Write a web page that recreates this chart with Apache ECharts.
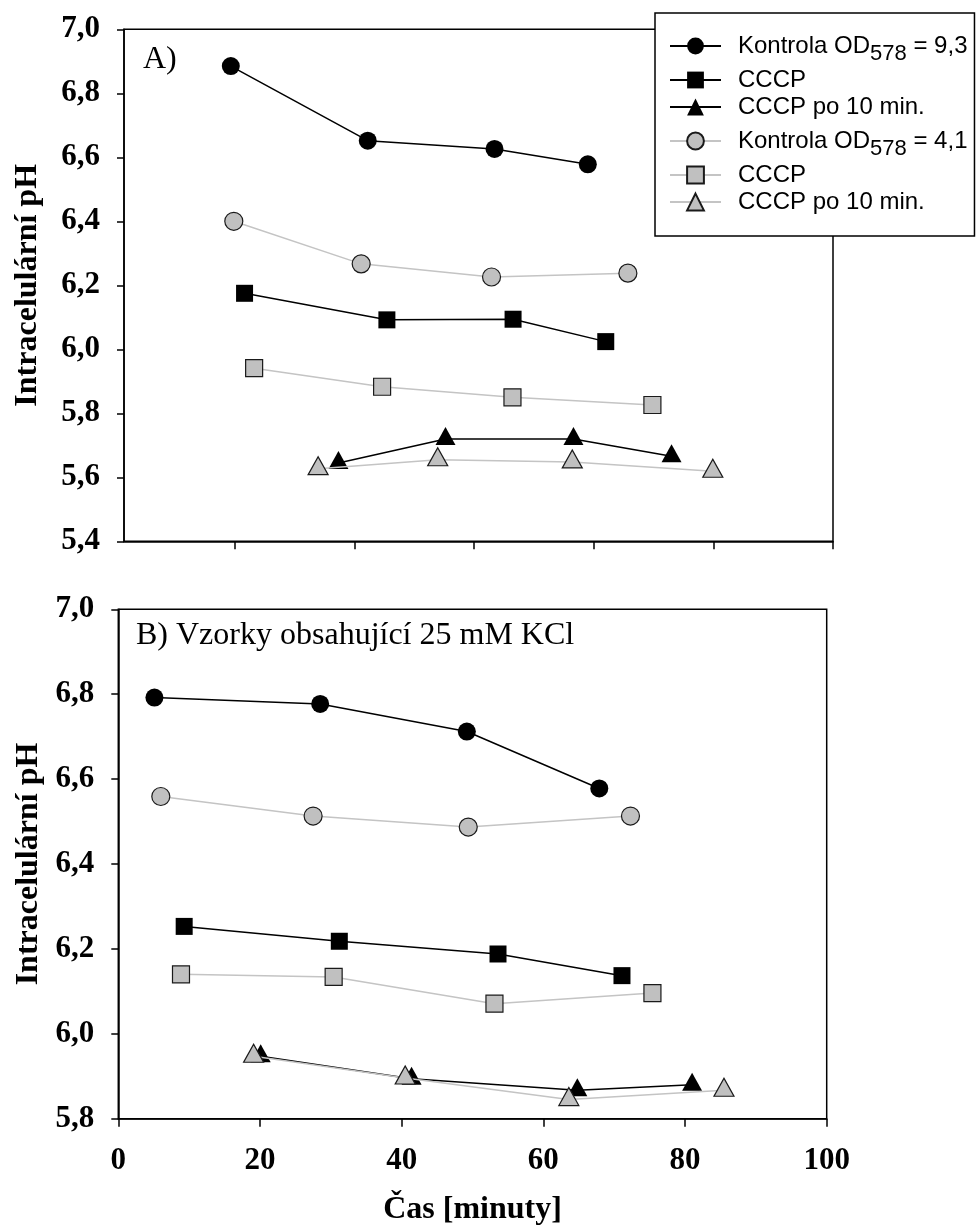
<!DOCTYPE html>
<html><head><meta charset="utf-8">
<script src="https://cdn.jsdelivr.net/npm/echarts@6.0.0/dist/echarts.min.js"></script>
<style>html,body{margin:0;padding:0;background:#fff}#c{width:977px;height:1231px}</style>
</head><body><div id="c"></div>
<script>
// ---- data (minutes, intracellular pH) ----
const legendNames = ['Kontrola OD578 = 9,3', 'CCCP', 'CCCP po 10 min.', 'Kontrola OD578 = 4,1', 'CCCP ', 'CCCP po 10 min. '];

// Panel A
const xA_k93 = [19.3, 42.2, 63.4, 79.0];
const yA_k93 = [6.885, 6.652, 6.626, 6.578];
const xA_c93 = [21.6, 45.4, 66.5, 82.0];
const yA_c93 = [6.175, 6.092, 6.094, 6.024];
const xA_p93 = [37.3, 55.2, 76.6, 93.0];
const yA_p93 = [5.645, 5.720, 5.720, 5.666];
const xA_k41 = [19.8, 41.1, 62.9, 85.7];
const yA_k41 = [6.400, 6.267, 6.226, 6.238];
const xA_c41 = [23.2, 44.6, 66.4, 89.8];
const yA_c41 = [5.941, 5.883, 5.850, 5.826];
const xA_p41 = [33.9, 53.9, 76.4, 99.9];
const yA_p41 = [5.627, 5.655, 5.648, 5.619];

// Panel B (25 mM KCl)
const xB_k93 = [5.1, 28.5, 49.2, 67.9];
const yB_k93 = [6.792, 6.777, 6.712, 6.578];
const xB_c93 = [9.3, 31.2, 53.6, 71.1];
const yB_c93 = [6.253, 6.218, 6.188, 6.137];
const xB_p93 = [20.1, 41.4, 64.8, 81.0];
const yB_p93 = [5.947, 5.894, 5.867, 5.880];
const xB_k41 = [6.0, 27.5, 49.4, 72.3];
const yB_k41 = [6.559, 6.513, 6.487, 6.513];
const xB_c41 = [8.85, 30.4, 53.1, 75.4];
const yB_c41 = [6.140, 6.134, 6.071, 6.096];
const xB_p41 = [19.1, 40.5, 63.6, 85.5];
const yB_p41 = [5.947, 5.896, 5.845, 5.867];

// Ticks
const xTicksA = [20, 40, 60, 80, 100, 120];

// ---- styles ----
const SERIF = 'Liberation Serif';
const SANS = 'Liberation Sans';
const black = {line: '#000', fill: '#000', border: '#000', bw: 0};
const gray = {line: '#c4c4c4', fill: '#c0c0c0', border: '#1a1a1a', bw: 1.2};
const shapes = {
  circle: {symbol: 'circle', size: 18, offset: [0, 0]},
  rect: {symbol: 'rect', size: 17, offset: [0, 0]},
  triangle: {symbol: 'triangle', size: [20, 18], offset: [0, -3]}
};
function mk(name, xs, ys, gi, st, sh) {
  return {
    name: name, type: 'line', xAxisIndex: gi, yAxisIndex: gi,
    data: xs.map((x, i) => [x, ys[i]]),
    symbol: shapes[sh].symbol, symbolSize: shapes[sh].size, symbolOffset: shapes[sh].offset,
    lineStyle: {color: st.line, width: 1.5},
    itemStyle: {color: st.fill, borderColor: st.border, borderWidth: st.bw},
    emphasis: {disabled: true}, animation: false, z: st === gray ? 3 : 2
  };
}
const series = [
  mk(legendNames[0], xA_k93, yA_k93, 0, black, 'circle'),
  mk(legendNames[1], xA_c93, yA_c93, 0, black, 'rect'),
  mk(legendNames[2], xA_p93, yA_p93, 0, black, 'triangle'),
  mk(legendNames[3], xA_k41, yA_k41, 0, gray, 'circle'),
  mk(legendNames[4], xA_c41, yA_c41, 0, gray, 'rect'),
  mk(legendNames[5], xA_p41, yA_p41, 0, gray, 'triangle'),
  mk(legendNames[0], xB_k93, yB_k93, 1, black, 'circle'),
  mk(legendNames[1], xB_c93, yB_c93, 1, black, 'rect'),
  mk(legendNames[2], xB_p93, yB_p93, 1, black, 'triangle'),
  mk(legendNames[3], xB_k41, yB_k41, 1, gray, 'circle'),
  mk(legendNames[4], xB_c41, yB_c41, 1, gray, 'rect'),
  mk(legendNames[5], xB_p41, yB_p41, 1, gray, 'triangle')
];

const fmtY = v => v.toFixed(1).replace('.', ',');
const axLine = {show: true, lineStyle: {color: '#000', width: 1.5}};
const tickSt = {show: true, inside: false, length: 8, lineStyle: {color: '#000', width: 1.5}};
const labelSt = {fontFamily: SERIF, fontWeight: 'bold', fontSize: 31, color: '#000'};
const nameSt = {fontFamily: SERIF, fontWeight: 'bold', fontSize: 32, color: '#000'};

const option = {
  animation: false,
  backgroundColor: '#fff',
  title: [
    {text: 'A)', left: 143, top: 44, padding: 0, textStyle: {fontFamily: SERIF, fontWeight: 'normal', fontSize: 32, color: '#000'}},
    {text: 'B) Vzorky obsahující 25 mM KCl', left: 136, top: 620, padding: 0, textStyle: {fontFamily: SERIF, fontWeight: 'normal', fontSize: 32, color: '#000'}}
  ],
  legend: {
    data: legendNames, orient: 'vertical', left: 655, top: 13,
    itemWidth: 51, itemHeight: 21, itemGap: 3,
    padding: [14, 7, 22, 14],
    backgroundColor: '#fff', borderColor: '#000', borderWidth: 1.5, borderRadius: 0,
    selectedMode: false,
    formatter: n => n.trim().replace('OD578', 'OD{s|578}'),
    textStyle: {fontFamily: SANS, fontSize: 24, color: '#000', lineHeight: 22, padding: [0, 0, 0, 12],
      rich: {s: {fontFamily: SANS, fontSize: 22, color: '#000', lineHeight: 20, padding: [16, 0, 0, 0]}}}
  },
  grid: [
    {left: 124, top: 29.3, width: 709, height: 512, show: true, borderColor: '#000', borderWidth: 1.5, backgroundColor: 'transparent'},
    {left: 118.3, top: 609.3, width: 708.4, height: 509.4, show: true, borderColor: '#000', borderWidth: 1.5, backgroundColor: 'transparent'}
  ],
  xAxis: [
    {type: 'value', gridIndex: 0, min: 1.44, max: 120, axisLine: axLine,
     axisTick: Object.assign({}, tickSt, {customValues: xTicksA}), axisLabel: {show: false}, splitLine: {show: false}},
    {type: 'value', gridIndex: 1, min: 0, max: 100, interval: 20, axisLine: axLine, axisTick: tickSt,
     axisLabel: Object.assign({margin: 27}, labelSt), splitLine: {show: false},
     name: 'Čas [minuty]', nameLocation: 'middle', nameGap: 75, nameTextStyle: nameSt}
  ],
  yAxis: [
    {type: 'value', gridIndex: 0, min: 5.4, max: 7.0, interval: 0.2, axisLine: axLine, axisTick: Object.assign({}, tickSt, {length: 7}),
     axisLabel: Object.assign({margin: 24, formatter: fmtY}, labelSt), splitLine: {show: false},
     name: 'Intracelulární pH', nameLocation: 'middle', nameGap: 80, nameRotate: 90, nameTextStyle: nameSt},
    {type: 'value', gridIndex: 1, min: 5.8, max: 7.0, interval: 0.2, axisLine: axLine, axisTick: Object.assign({}, tickSt, {length: 7}),
     axisLabel: Object.assign({margin: 24, formatter: fmtY}, labelSt), splitLine: {show: false},
     name: 'Intracelulární pH', nameLocation: 'middle', nameGap: 74, nameRotate: 90, nameTextStyle: nameSt}
  ],
  series: series
};
const chart = echarts.init(document.getElementById('c'), null, {renderer: 'canvas'});
chart.setOption(option);
</script>
</body></html>
